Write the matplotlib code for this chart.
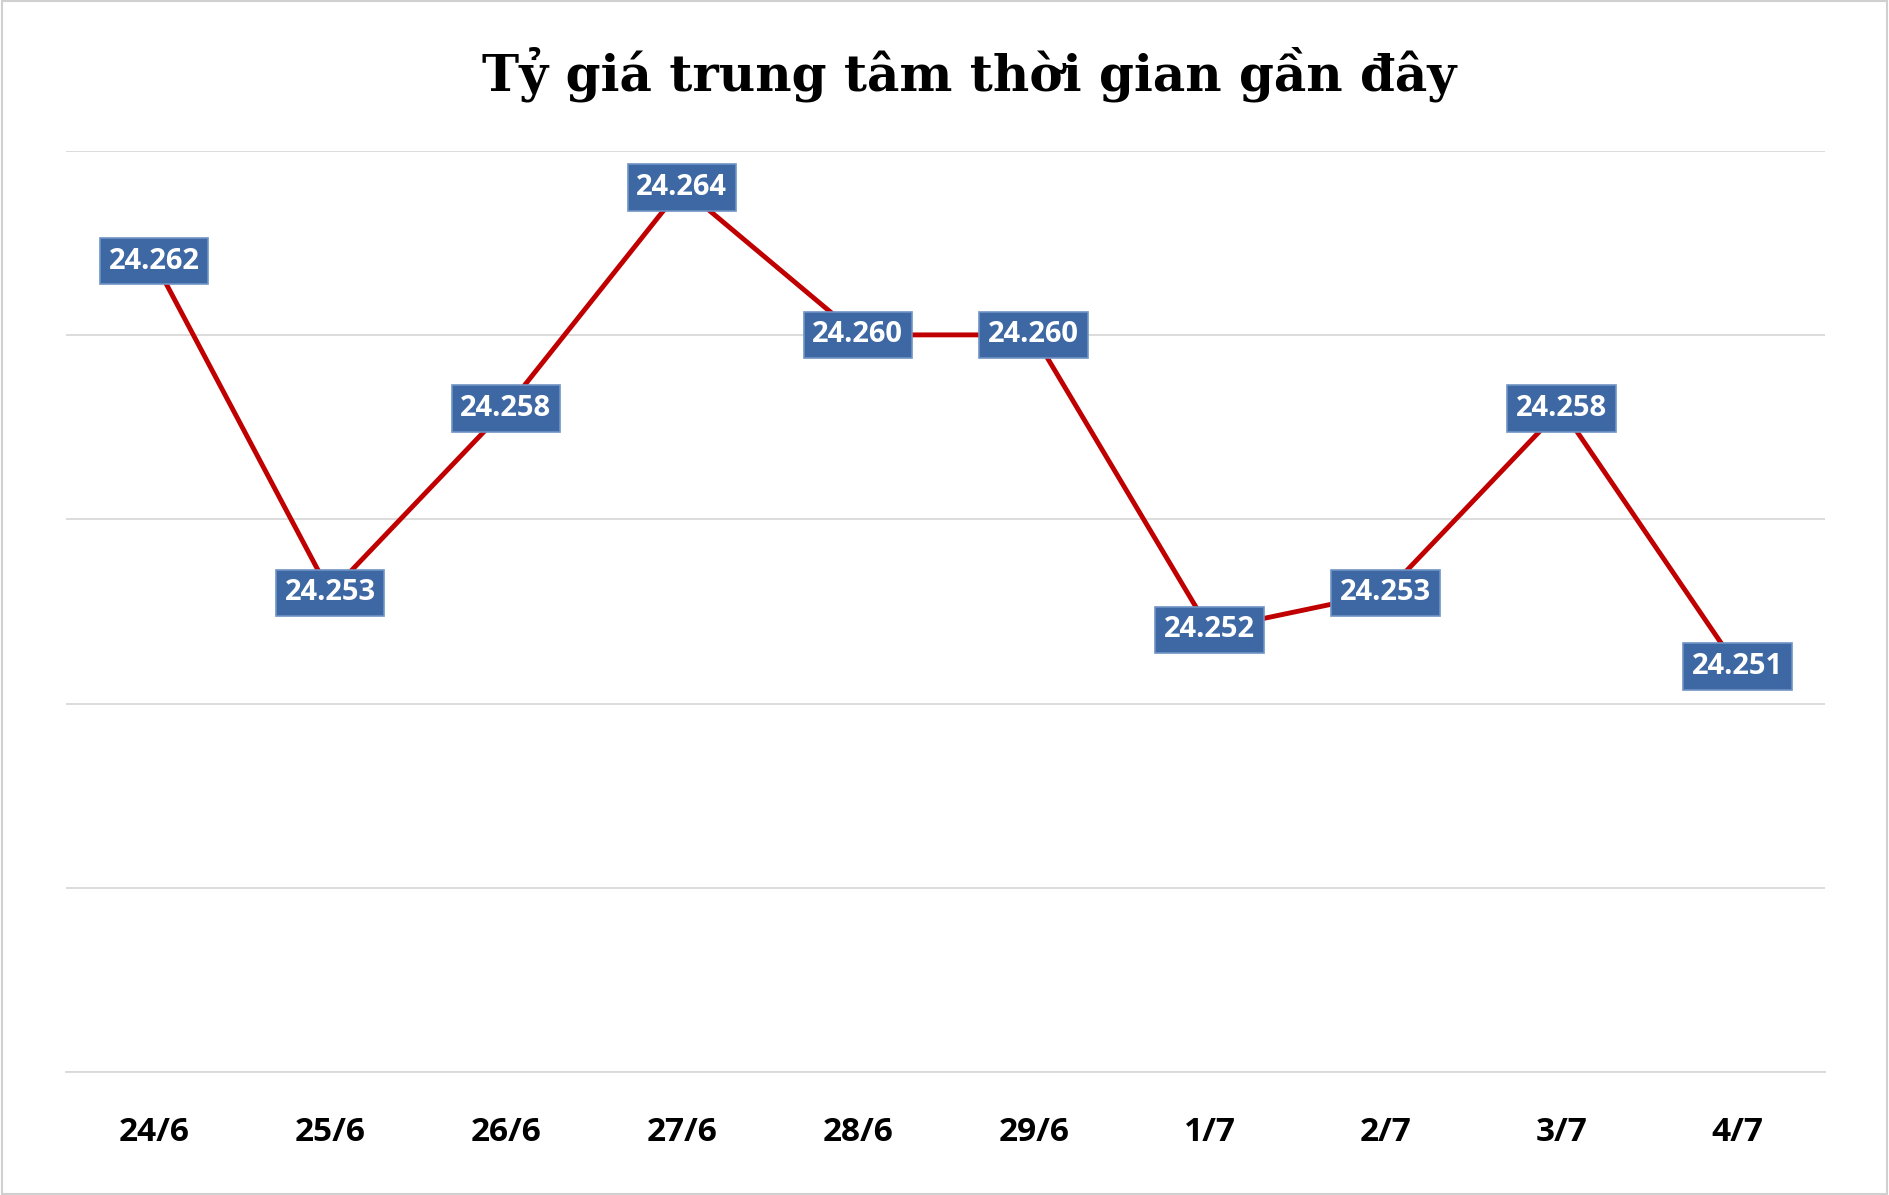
import matplotlib
matplotlib.use("Agg")
import matplotlib.pyplot as plt
from matplotlib.patches import Rectangle

# data
dates = ["24/6", "25/6", "26/6", "27/6", "28/6", "29/6", "1/7", "2/7", "3/7", "4/7"]
rates = [24.262, 24.253, 24.258, 24.264, 24.260, 24.260, 24.252, 24.253, 24.258, 24.251]
labels = ["24.262", "24.253", "24.258", "24.264", "24.260", "24.260",
          "24.252", "24.253", "24.258", "24.251"]

fig = plt.figure(figsize=(18.89, 11.95), dpi=100)
fig.patches.append(Rectangle((0.001, 0.001), 0.998, 0.998, transform=fig.transFigure,
                             fill=False, edgecolor="#d0d0d0", linewidth=1.5))
ax = fig.add_axes([55 / 1568, 1 - 890 / 992, 1460 / 1568, 765 / 992])

x = list(range(len(dates)))
ax.plot(x, rates, color="#c00000", linewidth=3.5, zorder=2)

for xi, yi, lab in zip(x, rates, labels):
    ax.text(xi, yi, lab, ha="center", va="center", color="white", fontsize=21,
            fontweight="bold", family="Open Sans", zorder=4,
            bbox=dict(boxstyle="square,pad=0.3", facecolor="#3d68a3",
                      edgecolor="#6f93c4", linewidth=1.2))

ax.set_xlim(-0.5, 9.5)
ax.set_ylim(24.240, 24.265)
ax.set_yticks([24.240, 24.245, 24.250, 24.255, 24.260, 24.265])
ax.yaxis.grid(True, color="#d9d9d9", linewidth=1.3)
ax.set_axisbelow(True)
ax.tick_params(axis="y", left=False, labelleft=False)
ax.tick_params(axis="x", bottom=False, pad=28)
ax.set_xticks(x)
ax.set_xticklabels(dates, fontsize=24, fontweight="bold", family="Open Sans")
for s in ["left", "right", "top"]:
    ax.spines[s].set_visible(False)
ax.spines["bottom"].set_color("#d9d9d9")
ax.spines["bottom"].set_linewidth(1.3)

fig.text(0.513, 1 - 62 / 992, "Tỷ giá trung tâm thời gian gần đây", ha="center",
         va="center", fontsize=36, fontweight="bold", family="DejaVu Serif")

fig.savefig("out.png", dpi=100, facecolor="white")
